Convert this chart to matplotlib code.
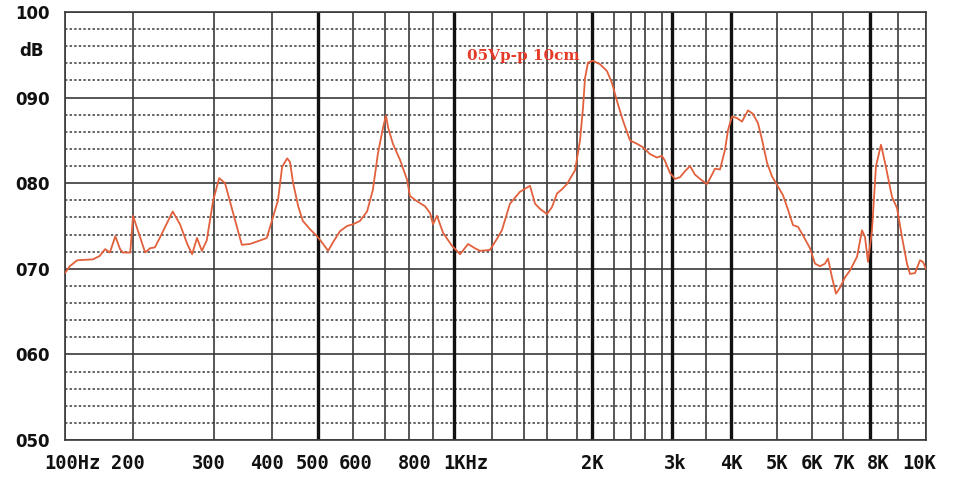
import numpy as np
import matplotlib
matplotlib.use("Agg")
import matplotlib.pyplot as plt
from matplotlib.transforms import ScaledTranslation

# ---- scale definition: chart's non-uniform frequency grid ----
grid_freqs = [100, 200, 300, 400, 500, 600, 700, 800, 900, 1000,
              1200, 1400, 1600, 1800, 2000, 2200, 2400, 2600, 2800, 3000,
              3500, 4000, 5000, 6000, 7000, 8000, 9000, 10000]
grid_pos = [65, 133, 214, 272, 318, 353, 385, 409, 433, 454,
            492, 524, 547, 577, 592, 614, 631, 645, 662, 672,
            706, 731, 777, 812, 843, 870, 898, 926]
thick_freqs = [500, 1000, 2000, 3000, 4000, 8000]

tick_freqs = [100, 200, 300, 400, 500, 600, 800, 1000, 2000, 3000,
              4000, 5000, 6000, 7000, 8000, 10000]
tick_labels = ['100Hz', '200', '300', '400', '500', '600', '800', '1KHz',
               '2K', '3k', '4K', '5K', '6K', '7K', '8K', '10K']
tick_shift_px = [7, -5, -5, -5, -5, 3, 6, 12, 0, 3, 0, 0, 0, 1, 8, -7]

db_major = [50, 60, 70, 80, 90, 100]
db_major_labels = ['050', '060', '070', '080', '090', '100']
db_minor = [52, 54, 56, 58, 62, 64, 66, 68, 72, 74, 76, 78,
            82, 84, 86, 88, 92, 94, 96, 98]

# ---- measured response ----
freq = [100, 107, 118, 141, 151, 159, 166, 174, 181, 185, 196, 200, 209, 215,
        221, 227, 233, 249, 258, 267, 273, 279, 285, 291, 299, 309, 319, 333,
        348, 362, 379, 391, 402, 413, 422, 433, 439, 446, 457, 467, 483, 498,
        511, 529, 543, 563, 583, 600, 622, 644, 662, 678, 694, 704, 713, 733,
        763, 792, 804, 833, 867, 888, 900, 919, 948, 990, 1032, 1074, 1110,
        1137, 1189, 1231, 1262, 1312, 1375, 1426, 1452, 1496, 1539, 1600,
        1633, 1667, 1700, 1733, 1787, 1840, 1880, 1907, 1947, 2009, 2073,
        2136, 2182, 2235, 2306, 2388, 2486, 2571, 2659, 2741, 2800, 2860,
        2960, 3044, 3118, 3191, 3265, 3338, 3412, 3520, 3620, 3680, 3780,
        3880, 3940, 4022, 4130, 4239, 4370, 4478, 4587, 4674, 4783, 4891,
        5000, 5171, 5314, 5457, 5600, 5743, 5943, 6097, 6258, 6419, 6516,
        6645, 6774, 6903, 7074, 7259, 7519, 7704, 7815, 7926, 8071, 8214,
        8393, 8536, 8786, 8964, 9143, 9321, 9429, 9607, 9786, 9893, 10000]
spl = [69.5, 70.3, 71.0, 71.1, 71.5, 72.3, 71.9, 73.8, 72.3, 71.9, 71.9, 76.2,
       73.6, 71.9, 72.4, 72.5, 73.6, 76.7, 75.2, 72.9, 71.7, 73.6, 72.1, 73.3,
       78.0, 80.6, 80.0, 76.5, 72.8, 72.9, 73.3, 73.6, 76.0, 78.0, 81.9, 82.9,
       82.5, 80.0, 77.3, 75.6, 74.6, 73.8, 73.1, 72.1, 73.1, 74.4, 75.0, 75.2,
       75.6, 76.7, 79.2, 83.5, 86.5, 87.9, 86.5, 84.6, 82.7, 80.4, 78.5, 77.9,
       77.3, 76.5, 75.2, 76.2, 74.2, 72.7, 71.7, 72.9, 72.4, 72.1, 72.2, 73.5,
       74.5, 77.6, 79.0, 79.5, 79.7, 77.6, 77.0, 76.4, 77.2, 78.8, 79.3, 79.9,
       81.5, 85.0, 88.8, 92.3, 94.1, 94.3, 93.9, 93.1, 91.7, 89.6, 87.3, 85.0,
       84.6, 84.2, 83.4, 83.0, 83.2, 82.6, 81.2, 80.5, 80.7, 81.4, 82.0, 81.0,
       80.5, 79.9, 81.0, 81.7, 81.6, 83.9, 86.2, 87.8, 87.6, 87.2, 88.5, 88.1,
       87.0, 85.1, 82.4, 80.8, 79.8, 78.6, 76.9, 75.1, 74.9, 73.9, 72.4, 70.6,
       70.3, 70.6, 71.2, 69.0, 67.1, 67.8, 69.0, 69.8, 71.4, 74.5, 73.7, 70.8,
       74.5, 82.0, 84.5, 82.4, 78.4, 77.1, 73.7, 70.6, 69.4, 69.5, 71.0, 70.8,
       70.0]

annotation = '05Vp-p 10cm'
unit_label = 'dB'

# ---- figure ----
W, H, DPI = 957, 478, 100
fig = plt.figure(figsize=(W / DPI, H / DPI), dpi=DPI, facecolor='white')
ax = fig.add_axes([65 / W, 1 - 440 / H, (926 - 65) / W, (440 - 12) / H])

gf = np.array(grid_freqs, dtype=float)
gp = np.array(grid_pos, dtype=float)


def fwd(f):
    return np.interp(np.asarray(f, dtype=float), gf, gp)


def inv(p):
    return np.interp(np.asarray(p, dtype=float), gp, gf)


ax.set_xscale('function', functions=(fwd, inv))
ax.set_xlim(100, 10000)
ax.set_ylim(50, 100)

grid_col = '#3a3a3a'
for d in db_minor:
    ax.axhline(d, color=grid_col, lw=1.1, ls=(0, (1.6, 1.4)), zorder=1)
for d in db_major:
    ax.axhline(d, color=grid_col, lw=1.2, zorder=1.5)
for f in grid_freqs:
    if f in thick_freqs:
        ax.axvline(f, color='#111111', lw=2.4, zorder=2)
    else:
        ax.axvline(f, color=grid_col, lw=1.2, zorder=2)

ax.plot(freq, spl, color='#e2603c', lw=1.3, zorder=3)

ax.text(1070, 94.9, annotation, color='#e53a28', fontsize=11,
        family='DejaVu Serif', weight='bold', ha='left', va='center', zorder=4)

for s in ax.spines.values():
    s.set_color(grid_col)
    s.set_linewidth(1.2)

ax.set_xticks(tick_freqs)
ax.set_xticklabels(tick_labels, family='DejaVu Sans Mono', weight='bold',
                   fontsize=13.5, color='#111111')
ax.xaxis.set_minor_locator(matplotlib.ticker.NullLocator())
ax.tick_params(axis='x', length=0, pad=10)
for lab, dx in zip(ax.get_xticklabels(), tick_shift_px):
    lab.set_transform(lab.get_transform() +
                      ScaledTranslation(dx / DPI, 0, fig.dpi_scale_trans))

ax.set_yticks(db_major)
ax.set_yticklabels(db_major_labels, family='DejaVu Sans', weight='bold',
                   fontsize=12, color='#111111')
ax.yaxis.set_minor_locator(matplotlib.ticker.NullLocator())
ax.tick_params(axis='y', length=0, pad=11)

fig.text(19 / W, 1 - 51 / H, unit_label, family='DejaVu Sans', weight='bold',
         fontsize=12, color='#111111', ha='left', va='center')

fig.savefig('out.png', dpi=DPI, facecolor='white')
